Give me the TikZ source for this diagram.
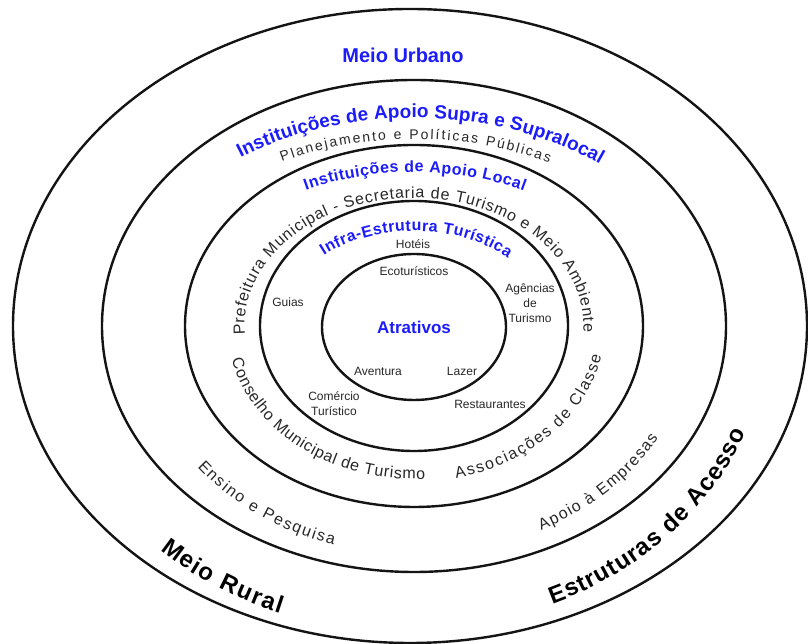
\documentclass[tikz,border=0pt]{standalone}
\usepackage{fontspec}
\setmainfont{Liberation Sans}
\usetikzlibrary{decorations.text}
\definecolor{lblblue}{RGB}{28,28,250}
\definecolor{lblgray}{RGB}{40,40,40}
\begin{document}
\begin{tikzpicture}[x=1pt,y=1pt,
  ring/.style={line width=2.4pt, draw=black!92},
  bluelbl/.style={font=\bfseries\fontsize{#1}{#1}\selectfont, text=lblblue, inner sep=0pt},
  small/.style={font=\fontsize{12}{15}\selectfont, text=lblgray, align=center, inner sep=0pt},
  arctext/.style={decorate, decoration={text along path, text align={fit to path}, #1}},
]
\useasboundingbox (0,0) rectangle (808,644);
\fill[white] (0,0) rectangle (808,644);
\coordinate (C) at (414,318);
% rings
\draw[ring] (410,318) ellipse [x radius=397, y radius=317];
\draw[ring] (C) ellipse [x radius=312, y radius=246];
\draw[ring] (C) ellipse [x radius=229, y radius=181];
\draw[ring] (C) ellipse [x radius=154, y radius=125];
\draw[ring] (414,317) ellipse [x radius=92, y radius=73];
% straight labels
\node[bluelbl=20] (urbano) at (403,589) {Meio Urbano};
\node[bluelbl=17] (atrativos) at (414,317) {Atrativos};
\node[small] (hoteis) at (413,400) {Hotéis};
\node[small] (eco) at (414,373) {Ecoturísticos};
\node[small] (guias) at (288,342) {Guias};
\node[small] (agencias) at (530,341) {Agências\\de\\Turismo};
\node[small] (aventura) at (378,273) {Aventura};
\node[small] (lazer) at (462,273) {Lazer};
\node[small] (comercio) at (334,240) {Comércio\\Turístico};
\node[small] (rest) at (490,240) {Restaurantes};
% curved labels
\begin{scope}[shift={(414,318)}]
\path[arctext={text color=lblblue, text={|\bfseries\fontsize{19}{19}\selectfont|Instituições de Apoio Supra e Supralocal}}]
  (126:295 and 208) arc[start angle=126, end angle=51, x radius=295, y radius=208];
\path[arctext={text color=lblgray, text={|\fontsize{14}{14}\selectfont|Planejamento e Políticas Públicas}}]
  (118.7:275 and 187) arc[start angle=118.7, end angle=60.6, x radius=275, y radius=187];
\path[arctext={text color=lblblue, text={|\bfseries\fontsize{16}{16}\selectfont|Instituições de Apoio Local}}]
  (118.3:228 and 154) arc[start angle=118.3, end angle=61.2, x radius=228, y radius=154];
\path[arctext={text color=lblgray, text={|\fontsize{16}{16}\selectfont|Prefeitura Municipal - Secretaria de Turismo e Meio Ambiente}}]
  (184:169.5 and 128) arc[start angle=184, end angle=-2.7, x radius=169.5, y radius=128];
\path[arctext={text color=lblblue, text={|\bfseries\fontsize{16}{16}\selectfont|Infra-Estrutura Turística}}]
  (132.2:134 and 95) arc[start angle=132.2, end angle=45.5, x radius=134, y radius=95];
\path[arctext={text color=lblgray, text={|\fontsize{16}{16}\selectfont|Conselho Municipal de Turismo}}]
  (192.8:187 and 153) arc[start angle=192.8, end angle=273.4, x radius=187, y radius=153];
\path[arctext={text color=lblgray, text={|\fontsize{16}{16}\selectfont|Associações de Classe}}]
  (282.7:191 and 156) arc[start angle=282.7, end angle=349, x radius=191, y radius=156];
\path[arctext={text color=lblgray, text={|\fontsize{16}{16}\selectfont|Ensino e Pesquisa}}]
  (218:275 and 229) arc[start angle=218, end angle=253, x radius=275, y radius=229];
\path[arctext={text color=lblgray, text={|\fontsize{16}{16}\selectfont|Apoio à Empresas}}]
  (297:280 and 229) arc[start angle=297, end angle=330.7, x radius=280, y radius=229];
\path[arctext={text color=black, text={|\bfseries\fontsize{24}{24}\selectfont|Meio Rural}}]
  (226.7:370 and 308) arc[start angle=226.7, end angle=248.8, x radius=370, y radius=308];
\path[arctext={text color=black, text={|\bfseries\fontsize{24}{24}\selectfont|Estruturas de Acesso}}]
  (293:354 and 302) arc[start angle=293, end angle=339.4, x radius=354, y radius=302];
\end{scope}
\end{tikzpicture}
\end{document}
